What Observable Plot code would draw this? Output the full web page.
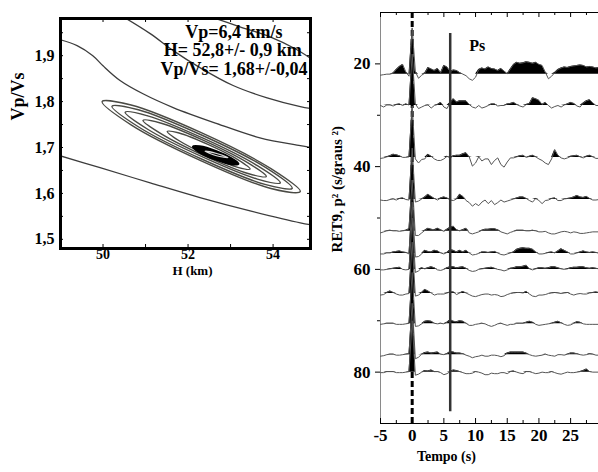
<!DOCTYPE html>
<html><head><meta charset="utf-8">
<script src="https://cdn.jsdelivr.net/npm/d3@7"></script>
<script src="https://cdn.jsdelivr.net/npm/@observablehq/plot@0.6"></script>
<style>
html,body{margin:0;padding:0;background:#fff;}
#wrap{position:relative;width:598px;height:472px;overflow:hidden;background:#fff;}
#left{position:absolute;left:0;top:0;}
#right{position:absolute;left:300px;top:0;}
</style></head><body><div id="wrap"><div id="right"></div><div id="left"></div></div>
<script>
// ---------- Left panel data: H-k stacking contours (H km, Vp/Vs) ----------
const hTickLabels = [50, 52, 54];
const hTicks = [49, 50, 51, 52, 53, 54];
const kTickLabels = [1.5, 1.6, 1.7, 1.8, 1.9];
const kMinorTicks = [1.5, 1.55, 1.6, 1.65, 1.7, 1.75, 1.8, 1.85, 1.9, 1.95];
const contourA = [[52.52,1.985],[53.22,1.963],[53.93,1.941],[54.52,1.915],[54.95,1.890]];
const contourB = [[50.47,1.985],[51.11,1.948],[51.65,1.911],[52.28,1.874],[53.06,1.835],[53.86,1.808],[54.64,1.789],[54.95,1.784]];
const contourC = [[48.95,1.936],[49.39,1.922],[49.76,1.900],[50.0,1.878],[50.4,1.846],[50.94,1.817],[51.65,1.787],[52.68,1.752],[53.69,1.721],[54.64,1.704],[54.95,1.699]];
const contourD = [[48.95,1.683],[49.93,1.656],[51.11,1.623],[52.28,1.591],[53.46,1.562],[54.64,1.536],[54.95,1.531]];
const ellipse1 = [[49.98,1.800],[50.66,1.7925],[52.31,1.7322],[53.95,1.6539],[54.64,1.604],[53.95,1.6107],[52.31,1.6711],[50.66,1.7494]];
const ellipse2 = [[50.21,1.790],[50.83,1.7823],[52.33,1.7267],[53.83,1.6561],[54.45,1.611],[53.83,1.6190],[52.33,1.6744],[50.83,1.7452]];
const ellipse3 = [[50.52,1.777],[51.05,1.7690],[52.34,1.7208],[53.63,1.6604],[54.17,1.623],[53.63,1.6312],[52.34,1.6794],[51.05,1.7398]];
const ellipse4 = [[50.94,1.759],[51.37,1.7529],[52.39,1.7145],[53.41,1.6665],[53.84,1.637],[53.41,1.6434],[52.39,1.6818],[51.37,1.7298]];
const ellipse5 = [[51.51,1.735],[51.79,1.7317],[52.48,1.7062],[53.17,1.6737],[53.46,1.653],[53.17,1.6567],[52.48,1.6822],[51.79,1.7147]];
const bestFit = [[52.12,1.702],[52.27,1.702],[52.65,1.692],[53.02,1.676],[53.18,1.665],[53.02,1.664],[52.65,1.674],[52.27,1.690]];
const bestFitCore = [[52.40,1.692],[52.67,1.687],[52.94,1.678],[52.67,1.682]];
const annotLines = ["Vp=6,4 km/s", "H= 52,8+/- 0,9 km", "Vp/Vs= 1,68+/-0,04"];

// ---------- Right panel data: receiver functions ----------
const timeTickLabels = [-5, 0, 5, 10, 15, 20, 25];
const timeMinorTicks = [-2.5, 2.5, 7.5, 12.5, 17.5, 22.5, 27.5];
const pTickLabels = [20, 40, 60, 80];
const pMinorTicks = [30, 50, 70];
const psTime = 6;
const traceP = [22, 28.1, 38.2, 46.4, 52.6, 56.9, 60, 64.7, 70.6, 76.6, 80];
const rfP22 = [-0.2,-0.1,0,0,0.2,0.9,1.5,1.9,0.4,-0.4, 9,0.5,-0.8,-0.2,0.2,1.3,1.0,0.7,1.1,0.3, 1.7,1.4,0.5,0.8,0.7,0.3,0,-0.3,-0.9,-1.2, -0.6,0.9,1.2,1.0,1.4,1.1,1.0,0.7,1.1,0.6, 0.1,1.0,1.9,2.3,2.1,2.2,2.4,2.3,2.1,2.3, 1.9,1.7,0.4,-0.9,-0.4,0.3,0.9,1.2,1.4,1.3, 1.5,1.6,1.7,1.8,1.7,1.4,1.5,1.4,1.2,1.3];
const rfP28 = [0,-0.3,0.1,0.1,-0.1,0.2,0.3,0,0.3,0.1, 10,0.3,-0.6,-0.3,0,0.1,-0.5,0,0.2,0.6, -0.3,-0.6,0.6,1.3,0.7,0.9,0.9,0.9,0.2,-0.3, -0.5,0,-0.5,-0.3,0,0.3,0.3,-0.1,0,0, 0.3,0.4,0.6,0.2,-0.1,-0.3,0.2,0.4,1.5,1.3, 1.0,0.2,0.6,0,-0.5,-0.2,0,-0.3,0.1,0.3, 0.6,0.4,-0.1,-0.3,0.5,0.9,1.1,0.5,0,0];
const rfP38 = [-0.2,-0.1,0.1,0.3,0.6,0.5,0.3,0,0,0.1, 10,-0.3,-1.1,-0.4,-0.3,0.6,0.2,-0.3,-0.6,-0.6, -0.3,0.2,-0.1,0.3,0.4,0.4,0.7,0.9,0.1,-1.7, -1.1,0.1,-0.7,-0.3,-0.3,-1.4,-0.6,-0.1,-1.4,-1.9, -0.9,-0.1,-0.1,0.1,0.3,0.4,0,0.2,0.4,0.1, -0.3,-0.6,-1.1,-1.4,-0.3,1.5,0.4,-0.1,-0.3,-0.1, 0.2,0.3,0.4,0.1,-0.1,0.2,0.4,0.1,-0.2,-0.2];
const rfP46 = [-0.1,-0.2,-0.2,0,0.1,-0.1,0.2,0.3,0,-0.1, 10,-0.5,-0.3,0.1,0.5,1.0,0.6,0.2,-0.1,0.3, 0.5,0.3,-0.1,-0.2,0.1,1.0,0.6,-0.2,-0.6,-1.3, -0.8,-1.2,-0.5,-0.1,-0.8,-0.2,-1.0,-0.6,-0.1,-0.5, -0.3,-0.1,0.1,0.3,0.5,0.5,0.2,-0.2,-0.5,0.2, -0.2,-0.8,-0.2,-0.1,0.2,0.3,-0.2,-0.2,0.1,0.2, 0.3,0.5,0.8,0.5,0.4,0.6,0.2,-0.1,-0.1,0];
const rfP53 = [-0.3,-0.1,0.1,0.2,0.1,0.1,0,0.1,0.2,0.5, 10,-0.8,-0.8,-0.3,0.2,0.6,0.4,0.3,0.6,0.3, 0,0.4,0.8,1.0,0.3,0.1,0.3,0.6,-0.3,-0.5, -0.3,-0.1,0.2,0.4,0.4,0.5,0.5,0.3,-0.1,-0.3, -0.5,-0.2,0,0.2,0.2,0.2,0.1,0.1,0.2,0.1, -0.1,-0.1,0,-0.3,-0.5,-0.5,-0.3,-0.1,0,-0.1, -0.3,-0.1,-0.2,-0.4,-0.4,-0.3,-0.2,-0.1,-0.1,-0.1];
const rfP57 = [-0.1,-0.1,0.1,0.1,0.3,0.4,0.5,0.3,0.2,-0.1, 10,-0.7,-0.6,-0.1,0.6,0.4,0.3,0.6,0.5,0.1, -0.1,0.2,0.7,0.6,0.3,0.6,0.3,0.6,0.1,-0.3, -0.2,0,0.3,0.3,0.2,0.3,0.4,0.1,-0.2,-0.3, -0.1,0.1,0.3,0.8,1.0,1.1,1.0,1.0,0.8,0.3, -0.1,-0.1,0,0.2,0.3,0.1,0.5,0.9,0.6,0.3, -0.1,-0.1,0.1,0.3,0.5,0.3,0.2,0.3,0.2,0];
const rfP60 = [-0.1,-0.1,0,0.1,0.2,0.3,0.4,0,-0.1,0, 10,-0.6,-0.3,0.3,0.1,0.3,0.5,0.3,-0.1,-0.2, 0,0.3,0.5,0.5,0.3,0.4,0.5,0.2,-0.2,-0.4, -0.3,0,0.1,0.2,0.3,0.4,0.2,0,-0.1,-0.3, -0.1,0.2,0.3,0.5,0.5,0.6,0.8,0.1,-0.1,0.1, 0.3,0.3,0.2,0.3,0.5,0.5,0.3,0.1,0,0.1, 0.3,0.4,0.4,0.5,0.5,0.3,0.2,0.3,0.2,0.1];
const rfP65 = [-0.3,-0.2,0.2,0.5,0.2,-0.1,-0.3,-0.3,-0.1,0, 10,-0.5,-0.3,0.2,0.8,0.5,0.1,-0.3,-0.1,-0.1, -0.1,0.1,0.3,0.3,-0.2,0.1,0.4,0.1,-0.2,-0.5, -0.6,-0.4,-0.2,-0.1,-0.1,-0.3,-0.2,-0.3,-0.6,-0.5, -0.2,0,0.1,0.2,0.2,0.1,0.4,-0.1,-0.5,-0.6, -0.3,-0.3,-0.2,0,0.1,0.2,0.1,0,0.1,0.2, -0.1,-0.3,-0.1,0,-0.1,-0.1,0.1,0.2,0.3,0.2];
const rfP71 = [-0.1,0,0.1,0.1,0.1,-0.1,-0.1,-0.1,0,0.1, 10,-0.5,-0.4,0,0.5,0.6,0.5,0.1,0,0.1, 0,0.3,0.8,0.5,0.4,0.6,0.5,0.1,-0.3,-0.3, -0.1,0,0.1,0,-0.3,-0.5,-0.3,0,0.1,-0.1, -0.3,-0.1,-0.1,0.1,0.1,0.1,0.3,0.5,0.3,-0.1, -0.3,-0.2,-0.1,0,0.1,0.3,0.5,0.2,-0.1,-0.3, -0.2,0.1,0.4,0.3,0,-0.1,-0.1,-0.1,-0.1,-0.1];
const rfP77 = [-0.3,-0.2,0,0.1,0.1,-0.1,-0.1,0,0.1,0.2, 10,-0.8,-0.5,0.1,0.4,0.5,0.3,0.4,0.5,0.1, 0,0.2,0.6,0.5,0.3,0.3,0.2,-0.1,-0.3,-0.6, -0.4,-0.3,-0.1,-0.3,-0.3,-0.1,-0.1,-0.2,-0.4,-0.2, 0.3,0.5,0.5,0.5,0.5,0.5,0.3,0,-0.2,-0.3, -0.2,-0.1,0.1,-0.1,-0.2,-0.3,0,0,-0.1,0.1, 0.3,0.3,0.2,0,-0.1,0,0.2,0.1,-0.1,-0.1];
const rfP80 = [-0.1,-0.1,0.1,0.1,0.1,-0.1,-0.1,-0.1,0,0.1, 10,-0.6,-0.4,0,0.3,0.2,0.4,0.1,0.1,-0.1, -0.5,-0.3,0.1,0.4,0.3,0.1,-0.1,-0.3,-0.3,-0.2, 0.1,0,-0.2,-0.5,-0.5,-0.2,-0.3,-0.3,-0.1,-0.1, -0.3,0.1,0.2,0,-0.2,-0.3,0.1,0.1,-0.1,-0.3, -0.2,0,-0.1,-0.1,0.1,-0.1,-0.3,-0.4,-0.2,0, -0.1,-0.1,0,0.1,0.3,0.6,0.1,0,0,0];
const traceAmps = [rfP22, rfP28, rfP38, rfP46, rfP53, rfP57, rfP60, rfP65, rfP71, rfP77, rfP80];
const sampleTimes = d3.range(70).map(i => -5 + i * 0.5); // 0.5 s sampling grid

const serif = '"Liberation Serif","Times New Roman",serif';
const comma1 = d => d.toFixed(1).replace(".", ",");

// ---------- Left plot ----------
const LW = 320, LH = 290, LML = 60, LMR = 10, LMT = 18, LMB = 42;
const lInnerW = LW - LML - LMR, lInnerH = LH - LMT - LMB;
const pts = a => a.map(([H, k]) => ({H, k}));
const ellipseStyle = {x: "H", y: "k", curve: "catmull-rom-closed", stroke: "#4a4a44", strokeWidth: 1.4, clip: true};
const openStyle = {x: "H", y: "k", curve: "catmull-rom", stroke: "#3c3c3c", strokeWidth: 1.3, clip: true};

const leftPlot = Plot.plot({
  width: LW, height: LH,
  marginLeft: LML, marginRight: LMR, marginTop: LMT, marginBottom: LMB,
  style: {background: "transparent", fontFamily: serif, fontWeight: "bold", color: "black", overflow: "visible"},
  x: {domain: [49, 54.88], axis: null},
  y: {domain: [1.48, 1.981], axis: null},
  marks: [
    Plot.line(pts(contourA), openStyle),
    Plot.line(pts(contourB), openStyle),
    Plot.line(pts(contourC), openStyle),
    Plot.line(pts(contourD), openStyle),
    Plot.line(pts(ellipse1), ellipseStyle),
    Plot.line(pts(ellipse2), ellipseStyle),
    Plot.line(pts(ellipse3), ellipseStyle),
    Plot.line(pts(ellipse4), ellipseStyle),
    Plot.line(pts(ellipse5), ellipseStyle),
    Plot.line(pts(bestFit), {x: "H", y: "k", curve: "catmull-rom-closed", fill: "black", stroke: "black", strokeWidth: 2.5}),
    Plot.line(pts(bestFitCore), {x: "H", y: "k", curve: "catmull-rom-closed", stroke: "#ddd", strokeWidth: 1.2}),
    // inward ticks
    Plot.tickX(hTicks, {x: d => d, insetTop: lInnerH - 4, stroke: "black"}),
    Plot.tickX(hTicks, {x: d => d, insetBottom: lInnerH - 4, stroke: "black"}),
    Plot.tickY(kMinorTicks, {y: d => d, insetRight: lInnerW - 3, stroke: "black"}),
    Plot.tickY(kMinorTicks, {y: d => d, insetLeft: lInnerW - 3, stroke: "black"}),
    Plot.frame({stroke: "black", strokeWidth: 3}),
    // tick labels
    Plot.text(hTickLabels, {x: d => d, text: d => String(d), frameAnchor: "bottom", dy: 10, fontSize: 14, fill: "black"}),
    Plot.text(kTickLabels, {y: d => d, text: comma1, frameAnchor: "left", dx: -6, textAnchor: "end", fontSize: 16, fill: "black"}),
    // axis titles
    Plot.text(["H (km)"], {frameAnchor: "bottom", dx: 7, dy: 26, fontSize: 13, fill: "black"}),
    Plot.text(["Vp/Vs"], {frameAnchor: "left", dx: -42, dy: -13, rotate: -90, fontSize: 18, fill: "black"}),
    // annotation
    Plot.text([annotLines[0]], {x: 53.08, y: 1.951, fontSize: 18, fill: "black"}),
    Plot.text([annotLines[1]], {x: 53.05, y: 1.911, fontSize: 18, fill: "black"}),
    Plot.text([annotLines[2]], {x: 53.08, y: 1.870, fontSize: 18, fill: "black"})
  ]
});
document.getElementById("left").appendChild(leftPlot);

// ---------- Right plot ----------
const RW = 298, RH = 472, RML = 80, RMR = 0, RMT = 12, RMB = 49;
const rInnerH = RH - RMT - RMB;
const traceMarks = [];
traceP.forEach((p, j) => {
  const rows = sampleTimes.map((t, i) => ({t, p, a: traceAmps[j][i]}));
  traceMarks.push(Plot.areaY(rows, {x: "t", y1: d => d.p, y2: d => d.p - Math.max(0, d.a), fill: "black", clip: true}));
  traceMarks.push(Plot.lineY(rows, {x: "t", y: d => d.p - d.a, stroke: "#555", strokeWidth: 1, clip: true}));
});

const rightPlot = Plot.plot({
  width: RW, height: RH,
  marginLeft: RML, marginRight: RMR, marginTop: RMT, marginBottom: RMB,
  style: {background: "transparent", fontFamily: serif, fontWeight: "bold", color: "black", overflow: "visible"},
  x: {domain: [-5, 29.4], axis: null},
  y: {domain: [10, 90], reverse: true, axis: null},
  marks: [
    Plot.ruleX([-5], {stroke: "#8a8a8a", strokeWidth: 1}),
    Plot.ruleY([10], {stroke: "black", strokeWidth: 1.2}),
    Plot.ruleY([90], {stroke: "black", strokeWidth: 1.2}),
    Plot.tickX(timeTickLabels, {x: d => d, insetBottom: rInnerH - 5, stroke: "black"}),
    Plot.tickX(timeMinorTicks, {x: d => d, insetBottom: rInnerH - 3, stroke: "black"}),
    Plot.tickX(timeTickLabels, {x: d => d, insetTop: rInnerH - 5, stroke: "black"}),
    Plot.tickX(timeMinorTicks, {x: d => d, insetTop: rInnerH - 3, stroke: "black"}),
    Plot.axisY(pTickLabels, {anchor: "left", tickSize: 5, tickPadding: 5, fontSize: 17, label: null}),
    Plot.axisY(pMinorTicks, {anchor: "left", tickSize: 3, tickFormat: () => "", label: null}),
    Plot.ruleX([0], {stroke: "black", strokeWidth: 3, strokeDasharray: "6,3"}),
    ...traceMarks,
    Plot.ruleX([psTime], {y1: 14.1, y2: 87.7, stroke: "#333", strokeWidth: 2.5}),
    Plot.text(["Ps"], {x: 10.25, y: 16.4, fontSize: 16, fill: "black"}),
    Plot.text(timeTickLabels, {x: d => d, text: d => String(d), frameAnchor: "bottom", dy: 17, fontSize: 17, fill: "black"}),
    Plot.text(["Tempo (s)"], {x: 5.4, frameAnchor: "bottom", dy: 37, fontSize: 14, fill: "black"}),
    Plot.text(["RET9, p\u00B2 (s/graus \u00B2)"], {y: 56.7, frameAnchor: "left", dx: -43, rotate: -90, fontSize: 15, fill: "black"})
  ]
});
document.getElementById("right").appendChild(rightPlot);
</script></body></html>
